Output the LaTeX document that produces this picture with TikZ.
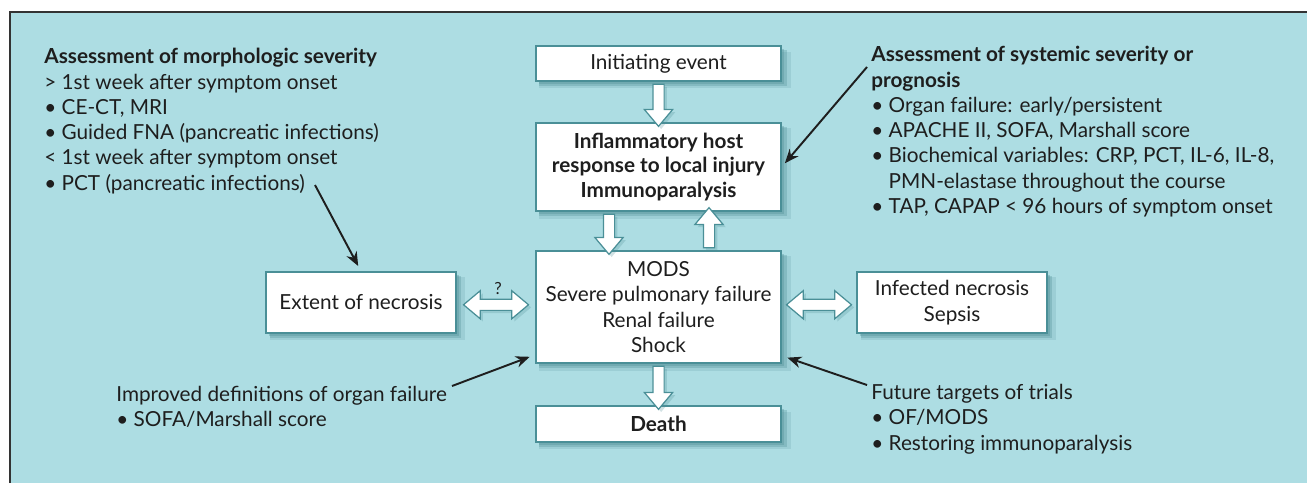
\documentclass[tikz,border=0pt]{standalone}
\usepackage{fontspec}
\setmainfont{Lato}
\usetikzlibrary{positioning,calc,arrows.meta,shapes.arrows,shadows}
\definecolor{bgteal}{HTML}{ADDDE3}
\definecolor{edgeteal}{HTML}{4A8F97}
\definecolor{shdteal}{HTML}{4F8E96}
\definecolor{ink}{HTML}{1E1E1E}
\begin{document}
\begin{tikzpicture}[x=0.02cm,y=-0.02cm,
    font=\fontsize{11.8}{14.4}\selectfont, text=ink,
    sh/.style={general shadow={fill=shdteal,opacity=.18,shadow xshift=3.5pt,shadow yshift=-3.5pt,shadow scale=1.03},
      general shadow={fill=shdteal,opacity=.3,shadow xshift=2.5pt,shadow yshift=-2.5pt,shadow scale=1.01},
      general shadow={fill=shdteal,opacity=.35,shadow xshift=1.5pt,shadow yshift=-1.5pt}},
    ash/.style={general shadow={fill=shdteal,opacity=.25,shadow xshift=1.5pt,shadow yshift=-1.5pt}},
    box/.style={draw=edgeteal,line width=0.8pt,fill=white,sh,align=center,inner sep=0pt,minimum width=4.9cm},
    sidebox/.style={box,minimum width=3.8cm,minimum height=1.22cm},
    blk/.style={single arrow,draw=edgeteal,line width=0.7pt,fill=white,ash,inner sep=0.1cm,
      single arrow head extend=0.17cm,single arrow tip angle=80,minimum height=#1},
    dblk/.style={double arrow,draw=edgeteal,line width=0.7pt,fill=white,ash,inner sep=0.1cm,
      double arrow head extend=0.17cm,double arrow tip angle=80,minimum height=1.3cm},
    note/.style={align=left,anchor=north west,inner sep=0pt},
    pointer/.style={draw=ink,line width=1.1pt,-{Stealth[length=8pt,width=6.5pt]}}]

    \useasboundingbox (0,0) rectangle (1307,483);
    \fill[bgteal] (10,12) rectangle (1307,483);
    \draw[line width=1.6pt,draw=black!80] (10,483) -- (10,12) -- (1307,12);

    \node[box,minimum height=0.7cm] (init) at (658.5,63.5) {Initiating event};
    \node[box,minimum height=1.76cm,font=\fontsize{11.8}{13.9}\selectfont\bfseries] (infl) at (658.5,167) {Inflammatory host\\response to local injury\\Immunoparalysis};
    \node[box,minimum height=2.24cm] (mods) at (658.5,307) {MODS\\Severe pulmonary failure\\Renal failure\\Shock};
    \node[box,minimum height=0.72cm,font=\fontsize{11.8}{14.4}\selectfont\bfseries] (death) at (658.5,424) {Death};
    \node[sidebox] (ext) at (361,302.5) {Extent of necrosis};
    \node[sidebox] (infnec) at (952,302.5) {Infected necrosis\\Sepsis};

    \node[blk=0.84cm,shape border rotate=270] (a1) at ($(init.south)!.5!(infl.north)$) {};
    \node[blk=0.8cm,shape border rotate=270] (a2) at ($(infl.south)!.5!(mods.north)+(-49.5,0)$) {};
    \node[blk=0.8cm,shape border rotate=90] (a3) at ($(infl.south)!.5!(mods.north)+(50.5,0)$) {};
    \node[blk=0.86cm,shape border rotate=270] (a4) at ($(mods.south)!.5!(death.north)$) {};
    \node[dblk] (d1) at ($(ext.east)!.5!(mods.west)$) {};
    \node[anchor=base,inner sep=0pt,font=\fontsize{9.5}{10}\selectfont] (q) at ($(d1.center)+(2,-10)$) {?};
    \node[dblk] (d2) at ($(mods.east)!.5!(infnec.west)$) {};

    \node[note] (morph) at (44,48) {\textbf{Assessment of morphologic severity}\\> 1st week after symptom onset\\• CE-CT, MRI\\• Guided FNA (pancreatic infections)\\< 1st week after symptom onset\\• PCT (pancreatic infections)};
    \node[note] (syst) at (871,46) {\textbf{Assessment of systemic severity or}\\\textbf{prognosis}\\• Organ failure: early/persistent\\• APACHE II, SOFA, Marshall score\\• Biochemical variables: CRP, PCT, IL-6, IL-8,\\\hphantom{•~}PMN-elastase throughout the course\\• TAP, CAPAP < 96 hours of symptom onset};
    \node[note] (impr) at (116,386) {Improved definitions of organ failure\\• SOFA/Marshall score};
    \node[note] (futr) at (871,384) {Future targets of trials\\• OF/MODS\\• Restoring immunoparalysis};

    \coordinate (p1) at (315,185);
    \coordinate (p2) at (867,67);
    \coordinate (p3) at (452,386);
    \coordinate (p4) at (867,385);
    \draw[pointer,shorten >=3.4pt] (p1) -- (ext.north);
    \draw[pointer,shorten >=2.8pt] (p2) -- (infl.east);
    \draw[pointer,shorten >=3.4pt] (p3) -- ([yshift=0.18cm]mods.south west);
    \draw[pointer,shorten >=3.4pt] (p4) -- ([yshift=0.16cm]mods.south east);
  \end{tikzpicture}
\end{document}
